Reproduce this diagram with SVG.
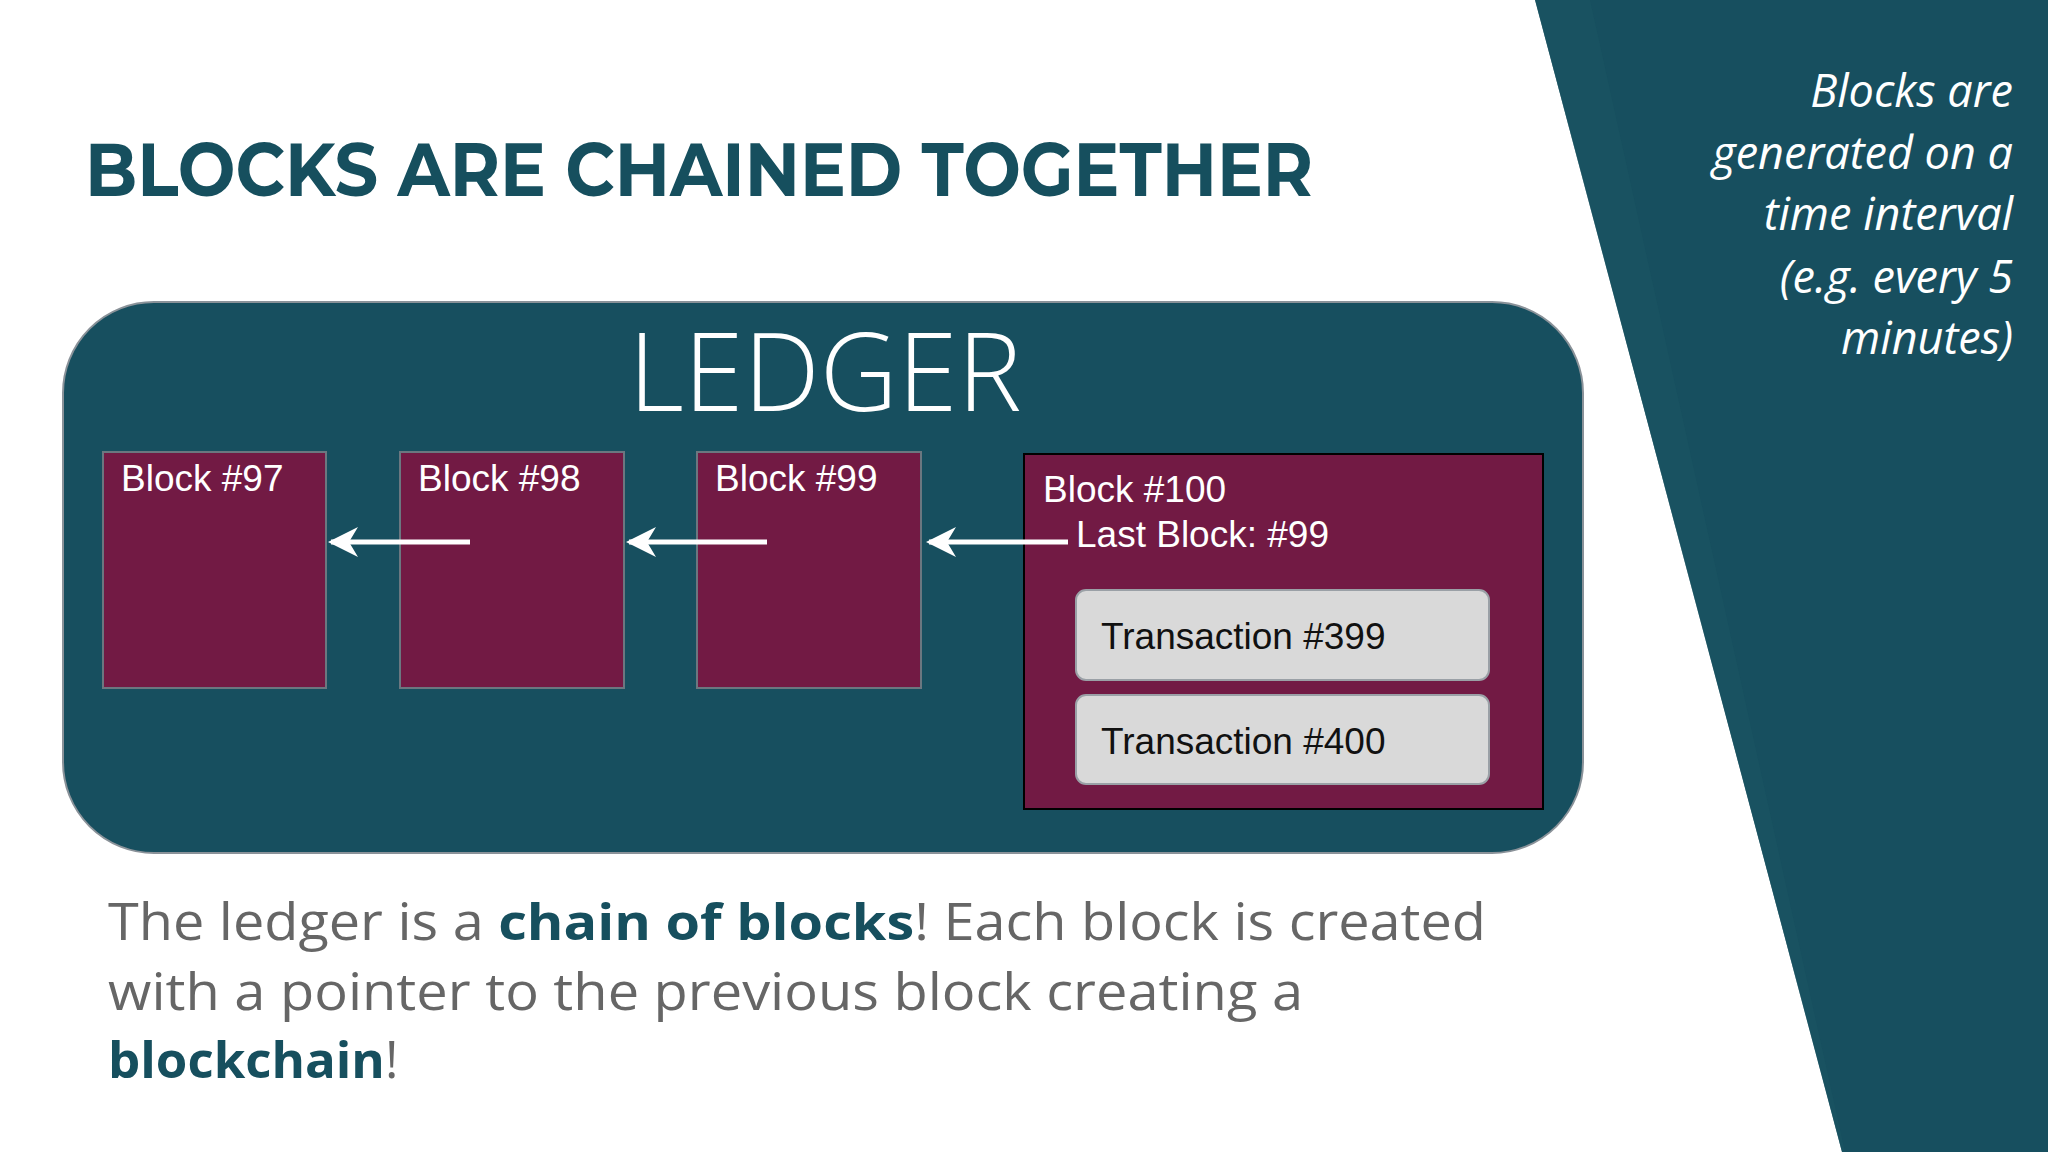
<svg xmlns="http://www.w3.org/2000/svg" width="2048" height="1152" viewBox="0 0 2048 1152">
<defs>
<style>
.blk{fill:#721a44;stroke:#6b7780;stroke-width:2}
.lbl{font-family:"Liberation Sans",Arial,sans-serif;font-size:37px;fill:#ffffff}
.tx{fill:#d9d9d9;stroke:#9aa0a6;stroke-width:2}
.txt{font-family:"Liberation Sans",Arial,sans-serif;font-size:37px;fill:#111111}
.body{font-family:"Open Sans","Noto Sans",sans-serif;font-size:51px;fill:#666666}
.b{font-weight:bold;fill:#164f5e}
.side{font-family:"Open Sans","Noto Sans",sans-serif;font-style:italic;font-size:45px;fill:#ffffff;text-anchor:end}
.conn{stroke:#ffffff;stroke-width:5;fill:none}
</style>
<marker id="ah" viewBox="0 0 10 10" refX="9" refY="5" markerWidth="8" markerHeight="6" markerUnits="strokeWidth" orient="auto"><path d="M0,0 L10,5 L0,10 L3,5 z" fill="#ffffff"/></marker>
</defs>
<rect width="2048" height="1152" fill="#ffffff"/>
<polygon points="1535,0 2048,0 2048,1152 1842,1152" fill="#174f5f"/>
<polygon points="1535,0 1590,0 1845,1152 1842,1152" fill="#1a5563" opacity="0.6"/>
<text x="85" y="196" font-family="Montserrat,'Liberation Sans',sans-serif" font-weight="bold" font-size="74" fill="#164f5e" textLength="1228" lengthAdjust="spacingAndGlyphs">BLOCKS ARE CHAINED TOGETHER</text>
<g id="ledger">
<rect x="63" y="302" width="1520" height="551" rx="91" fill="#174f5f" stroke="#8a9299" stroke-width="2"/>
<text x="825" y="411" text-anchor="middle" font-family="'Open Sans',Lato,sans-serif" font-weight="300" font-size="108" fill="#ffffff">LEDGER</text>
</g>
<g id="block97"><rect class="blk" x="103" y="452" width="223" height="236"/><text class="lbl" x="121" y="491">Block #97</text></g>
<g id="block98"><rect class="blk" x="400" y="452" width="224" height="236"/><text class="lbl" x="418" y="491">Block #98</text></g>
<g id="block99"><rect class="blk" x="697" y="452" width="224" height="236"/><text class="lbl" x="715" y="491">Block #99</text></g>
<g id="block100">
<rect x="1024" y="454" width="519" height="355" fill="#721a44" stroke="#000000" stroke-width="2"/>
<text class="lbl" x="1043" y="502">Block #100</text>
<text class="lbl" x="1076" y="547">Last Block: #99</text>
</g>
<g id="tx399"><rect class="tx" x="1076" y="590" width="413" height="90" rx="10"/><text class="txt" x="1101" y="649">Transaction #399</text></g>
<g id="tx400"><rect class="tx" x="1076" y="695" width="413" height="89" rx="10"/><text class="txt" x="1101" y="754">Transaction #400</text></g>
<g id="connectors">
<line class="conn" x1="470" y1="542" x2="331" y2="542" marker-end="url(#ah)"/>
<line class="conn" x1="767" y1="542" x2="629" y2="542" marker-end="url(#ah)"/>
<line class="conn" x1="1068" y1="542" x2="929" y2="542" marker-end="url(#ah)"/>
</g>
<text class="body" x="108" y="940" textLength="1378" lengthAdjust="spacingAndGlyphs">The ledger is a <tspan class="b">chain of blocks</tspan>! Each block is created</text>
<text class="body" x="108" y="1010" textLength="1195" lengthAdjust="spacingAndGlyphs">with a pointer to the previous block creating a</text>
<text class="body" x="108" y="1078"><tspan class="b">blockchain</tspan>!</text>
<g id="note">
<text class="side" x="2013" y="107">Blocks are</text>
<text class="side" x="2013" y="169">generated on a</text>
<text class="side" x="2013" y="230">time interval</text>
<text class="side" x="2013" y="293">(e.g. every 5</text>
<text class="side" x="2013" y="354">minutes)</text>
</g>
</svg>
